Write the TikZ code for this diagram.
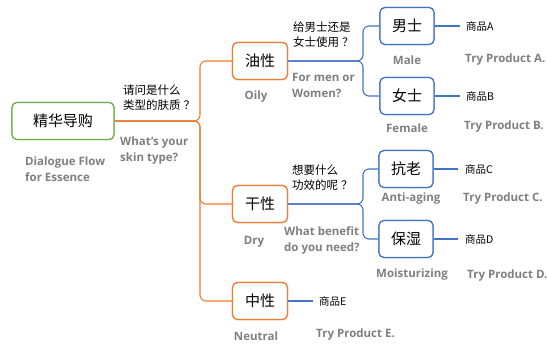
\documentclass[tikz,border=0pt]{standalone}
\usepackage{fontspec}
\setmainfont{Open Sans}
\newfontfamily\cjk{Noto Sans CJK SC}
\begin{document}
\begin{tikzpicture}[x=1pt,y=-1pt,
  box/.style={draw,rounded corners=5pt,line width=1.2pt,fill=white,minimum height=37pt,inner sep=0pt,font=\cjk\fontsize{15}{15}\selectfont},
  rootbox/.style={box,draw=cgreen,minimum width=102pt},
  obox/.style={box,draw=corange,minimum width=55pt},
  bbox/.style={box,draw=cblue,minimum width=54pt},
  lab/.style={text=cgray,font=\bfseries\fontsize{11.5}{16}\selectfont,inner sep=0pt},
  qzh/.style={font=\cjk\fontsize{11.5}{15}\selectfont,align=left,inner sep=0pt},
  qen/.style={lab,align=left},
  prod/.style={font=\cjk\fontsize{10.5}{12}\selectfont,inner sep=0pt,anchor=west},
  oline/.style={draw=corange,line width=1.1pt,rounded corners=6pt},
  bline/.style={draw=cblue,line width=1.1pt,rounded corners=6pt},
  pline/.style={draw=cblue,line width=1.1pt}
]
\definecolor{cgreen}{HTML}{70AD47}
\definecolor{corange}{HTML}{ED7D31}
\definecolor{cblue}{HTML}{4472C4}
\definecolor{cgray}{HTML}{7F7F7F}
\useasboundingbox (0,0) rectangle (547,347);

% coordinates for brace trunks
\coordinate (t1) at (200,121);
\coordinate (t2) at (363,61);
\coordinate (t3) at (363,204);

% boxes
\node[rootbox] (root) at (63,121) {精华导购};
\node[obox] (oily) at (260,61) {油性};
\node[obox] (dry) at (260,204) {干性};
\node[obox] (neutral) at (260,301) {中性};
\node[bbox] (male) at (407,26) {男士};
\node[bbox] (female) at (407,96) {女士};
\node[bbox] (anti) at (406,169) {抗老};
\node[bbox] (moist) at (406,239) {保湿};

% products
\node[prod] (pA) at (466,26) {商品A};
\node[prod] (pB) at (466,96) {商品B};
\node[prod] (pC) at (465,169) {商品C};
\node[prod] (pD) at (465,239) {商品D};
\node[prod] (pE) at (319,301) {商品E};

% connectors
\draw[oline] (root.east) -- (t1) |- (oily.west);
\draw[oline] (root.east) -- (t1) |- (dry.west);
\draw[oline] (root.east) -- (t1) |- (neutral.west);
\draw[bline] (oily.east) -- (t2) |- (male.west);
\draw[bline] (oily.east) -- (t2) |- (female.west);
\draw[bline] (dry.east) -- (t3) |- (anti.west);
\draw[bline] (dry.east) -- (t3) |- (moist.west);
\draw[pline] (male.east) -- ([xshift=-6pt]pA.west);
\draw[pline] (female.east) -- ([xshift=-6pt]pB.west);
\draw[pline] (anti.east) -- ([xshift=-7pt]pC.west);
\draw[pline] (moist.east) -- ([xshift=-7pt]pD.west);
\draw[pline] (neutral.east) -- ([xshift=-6pt]pE.west);

% redraw boxes on top of connector ends
\node[rootbox] at (root) {精华导购};
\node[obox] at (oily) {油性};
\node[obox] at (dry) {干性};
\node[obox] at (neutral) {中性};
\node[bbox] at (male) {男士};
\node[bbox] at (female) {女士};
\node[bbox] at (anti) {抗老};
\node[bbox] at (moist) {保湿};

% labels
\node[lab,align=left,anchor=west] (rootL) at (25,169.5) {Dialogue Flow\\for Essence};
\node[lab] (oilyL) at (256,97) {Oily};
\node[lab] (dryL) at (254,242) {Dry};
\node[lab] (neutralL) at (256,336) {Neutral};
\node[lab] (maleL) at (407,60) {Male};
\node[lab] (femaleL) at (407,128) {Female};
\node[lab] (antiL) at (411,199) {Anti-aging};
\node[lab] (moistL) at (412,275) {Moisturizing};
\node[lab,anchor=west] (pAL) at (465,60) {Try Product A.};
\node[lab,anchor=west] (pBL) at (464,127) {Try Product B.};
\node[lab,anchor=west] (pCL) at (463,199) {Try Product C.};
\node[lab,anchor=west] (pDL) at (467,276) {Try Product D.};
\node[lab,anchor=west] (pEL) at (316,335) {Try Product E.};

% questions
\node[qzh,anchor=west] (q1) at (123,97.5) {请问是什么\\类型的肤质\hspace{3pt}？};
\node[qen,anchor=west] (q1e) at (120,151) {What’s your\\skin type?};
\node[qzh,anchor=west] (q2) at (293,35) {给男士还是\\女士使用\hspace{3pt}？};
\node[qen,anchor=west] (q2e) at (292,85.5) {For men or\\Women?};
\node[qzh,anchor=west] (q3) at (292,178) {想要什么\\功效的呢\hspace{3pt}？};
\node[qen,anchor=west] (q3e) at (284,240) {What benefit\\do you need?};
\end{tikzpicture}
\end{document}
